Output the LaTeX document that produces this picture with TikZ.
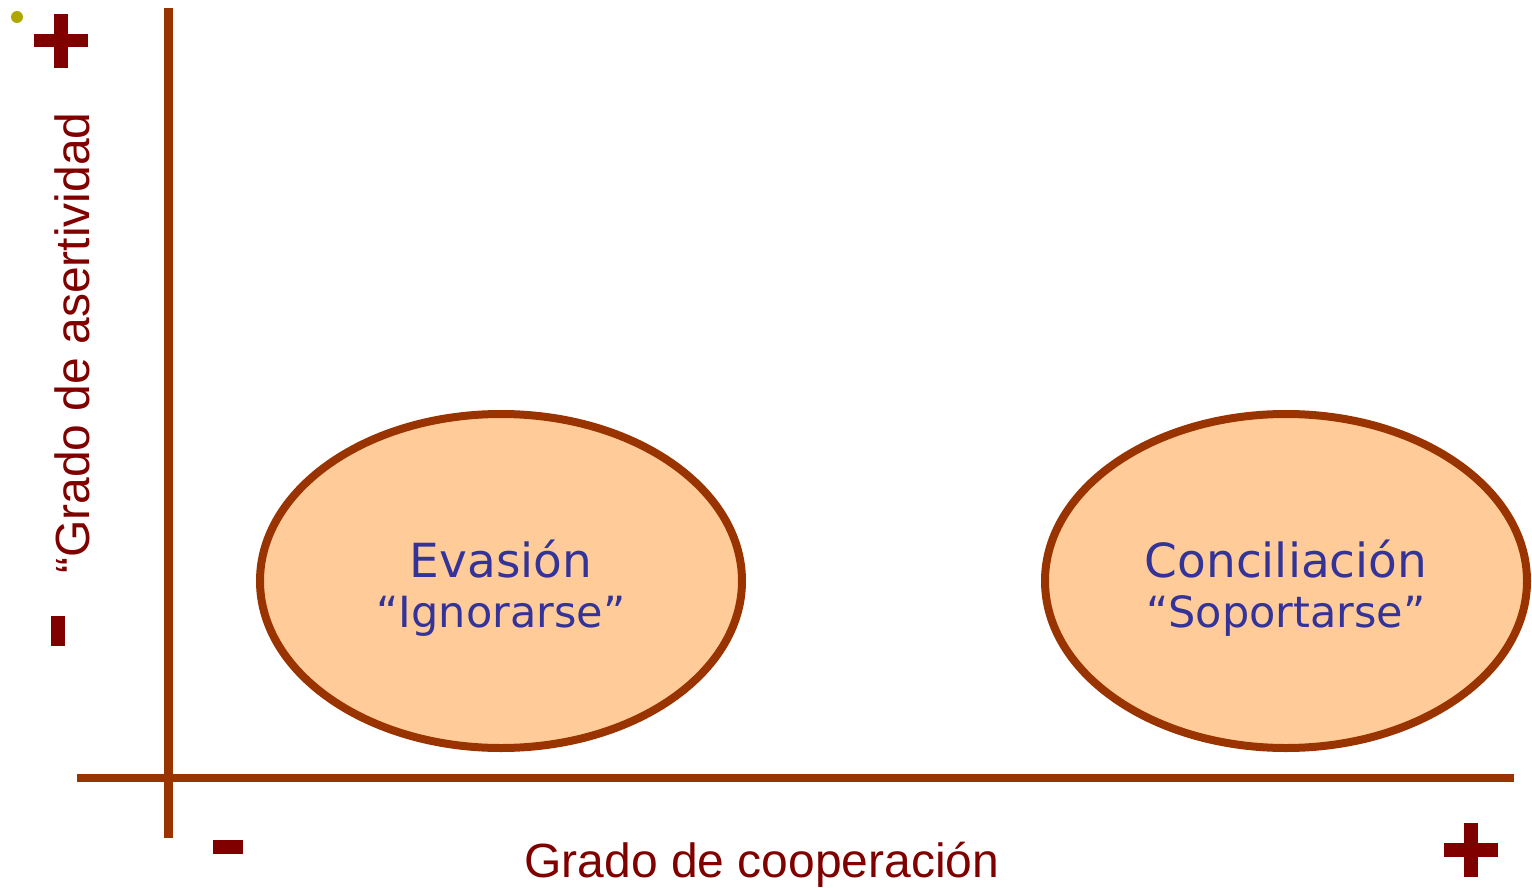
\documentclass[tikz,border=0pt]{standalone}
\usepackage{fontspec}
\usetikzlibrary{shapes.geometric}
\newfontfamily\boxfont{DejaVu Sans}
\newfontfamily\axisfont{Liberation Sans}
\definecolor{axisbrown}{RGB}{153,51,0}
\definecolor{signred}{RGB}{128,0,0}
\definecolor{ovalfill}{RGB}{255,204,153}
\definecolor{ovaltext}{RGB}{51,51,153}
\definecolor{dotolive}{RGB}{175,166,0}
\tikzset{
    axis/.style={draw=axisbrown, line width=4.5pt},
    oval/.style={ellipse, draw=axisbrown, fill=ovalfill, line width=4pt,
        minimum width=241pt, minimum height=167pt, inner sep=0pt},
    ovaltxt/.style={align=center, text=ovaltext, inner sep=0pt,
        font=\boxfont\fontsize{23.5}{25}\selectfont},
    axislabel/.style={text=signred, font=\axisfont\fontsize{24}{28}\selectfont, inner sep=0pt}
}
\newcommand\subline[1]{{\fontsize{21.5}{25}\selectfont #1}}
\begin{document}
\begin{tikzpicture}[x=0.5pt, y=-0.5pt]
    \useasboundingbox (0,0) rectangle (1532,888);

    % axes
    \coordinate (ytop) at (168,8);
    \coordinate (ybot) at (168,838);
    \coordinate (xleft) at (77,778);
    \coordinate (xright) at (1514,778);
    \draw[axis] (ytop) -- (ybot);
    \draw[axis, line width=4pt] (xleft) -- (xright);

    \node (evasion) at (501,581) [oval] {};
    \node (concil) at (1286,581) [oval] {};
    \node (evasiontxt) at ([yshift=-3.5pt]evasion.center) [ovaltxt]
        {Evasión\\ \subline{“Ignorarse”}};
    \node (conciltxt) at ([yshift=-3.5pt]concil.center) [ovaltxt]
        {Conciliación\\ \subline{“Soportarse”}};

    \node (xlabel) at (762,865) [axislabel] {Grado de cooperación};
    \node (ylabel) at (72,343) [axislabel, rotate=90] {“Grado de asertividad};

    % plus and minus signs
    \fill[signred] (34,34) rectangle (88,47);
    \fill[signred] (54,14) rectangle (68,68);
    \fill[signred] (51,616) rectangle (65,646);
    \fill[signred] (213,840) rectangle (243,854);
    \fill[signred] (1444,843) rectangle (1498,857);
    \fill[signred] (1464,823) rectangle (1478,877);

    \fill[dotolive] (17,17) circle (3pt);
\end{tikzpicture}
\end{document}
